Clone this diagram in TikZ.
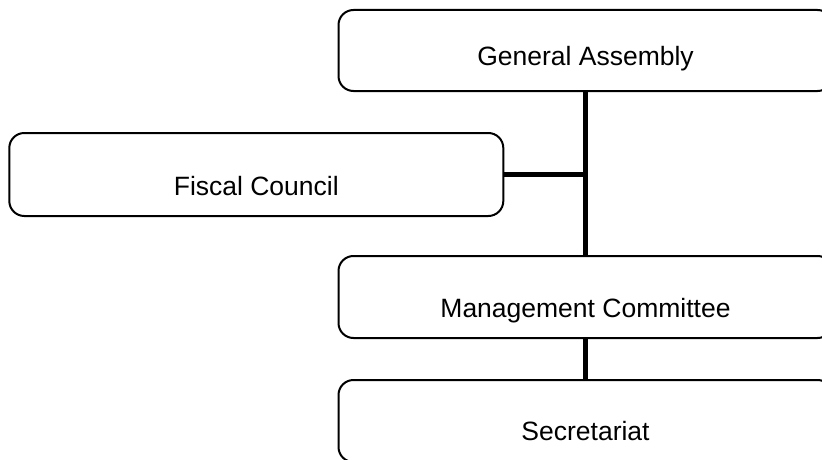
\documentclass[tikz,border=0pt]{standalone}
\usepackage{fontspec}
\setmainfont{Liberation Sans}
\begin{document}
\begin{tikzpicture}[x=1pt,y=1pt,
  box/.style={draw=black, line width=2pt, rounded corners=15pt, fill=white,
    minimum width=494pt, inner sep=0pt},
  lbl/.style={font=\fontsize{26.5}{32}\selectfont, anchor=base, inner sep=0pt},
  conn/.style={line width=5.5pt, draw=black}]
\useasboundingbox (0,0) rectangle (822,-460);
\clip (0,0) rectangle (822,-460);
\node[box, minimum height=81pt] (ga) at (585.5,-50.5) {};
\node[box, minimum height=83pt] (fc) at (256.3,-174.5) {};
\node[box, minimum height=82pt] (mc) at (585.5,-297) {};
\node[box, minimum height=82pt] (sec) at (585.5,-421) {};
\node[lbl] (tga) at (585.5,-66) {General Assembly};
\node[lbl] (tfc) at (256.3,-195) {Fiscal Council};
\node[lbl] (tmc) at (585.5,-317) {Management Committee};
\node[lbl] (tsec) at (585.5,-440) {Secretariat};
\draw[conn] (ga.south) -- (mc.north);
\draw[conn] (fc.east) -- (fc.east -| ga.south);
\draw[conn] (mc.south) -- (sec.north);
\end{tikzpicture}
\end{document}
